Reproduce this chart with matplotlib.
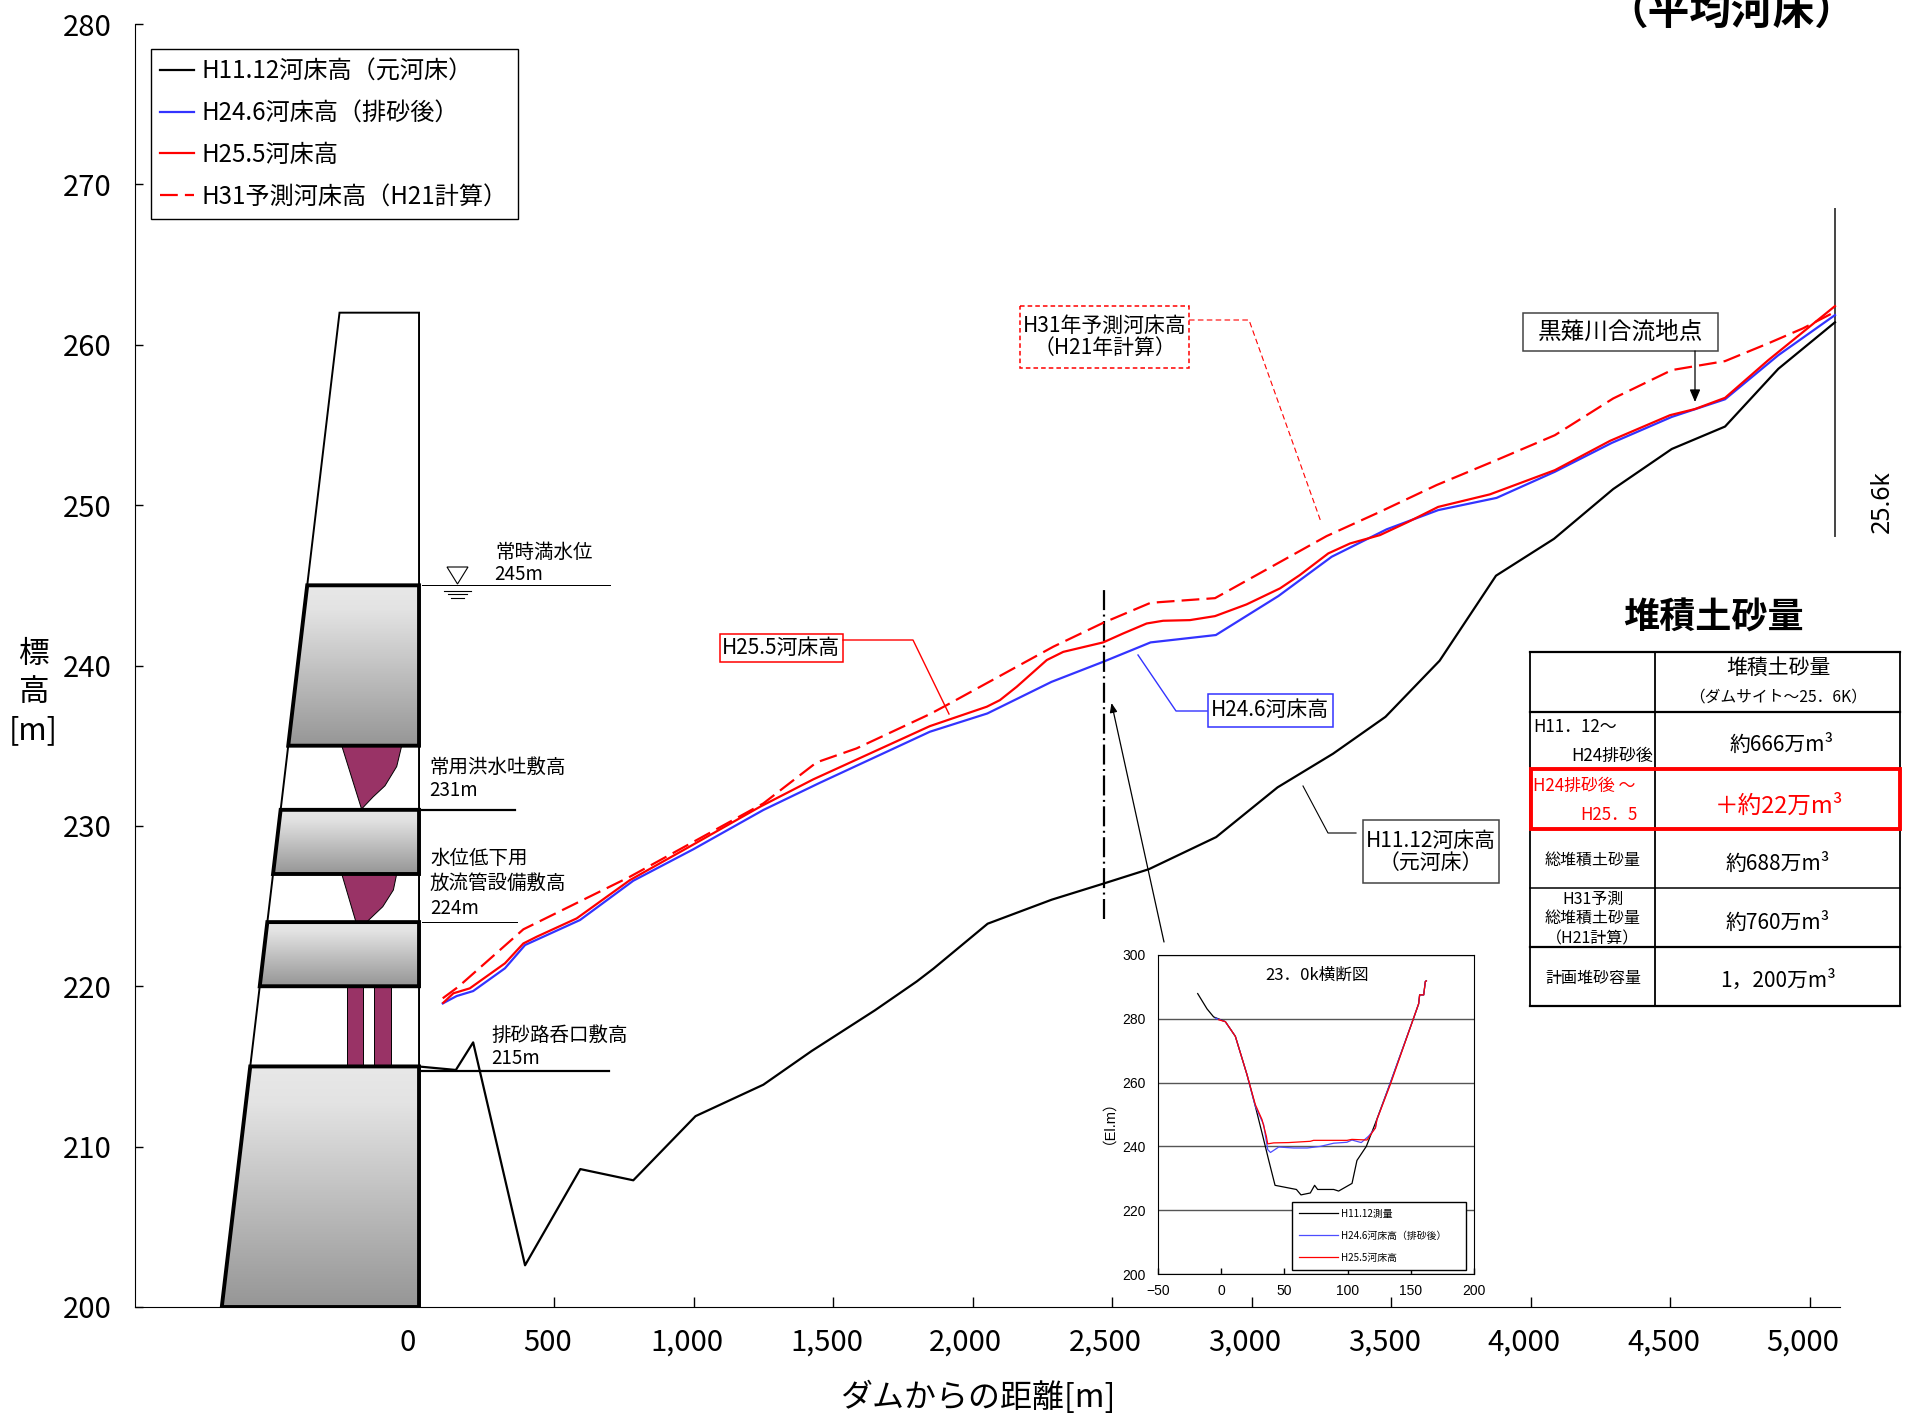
import numpy as np
import matplotlib
matplotlib.use("Agg")
import matplotlib.pyplot as plt
from matplotlib.colors import LinearSegmentedColormap
from matplotlib.patches import Polygon, Rectangle
from matplotlib.transforms import ScaledTranslation

JP = ["Noto Sans CJK JP", "DejaVu Sans"]
plt.rcParams["font.family"] = JP

W, H = 1906, 1413

# river bed profiles: distance from dam [m], elevation [m]
h11_x = [15, 24, 147, 209, 395, 593, 783, 1006, 1249, 1422, 1649, 1799, 1859, 2053, 2283, 2468,
         2631, 2872, 3092, 3291, 3479, 3673, 3875, 4083, 4295, 4505, 4696, 4887, 5090]
h11_y = [215.0, 214.98, 214.78, 216.5, 202.6, 208.6, 207.9, 211.9, 213.86, 215.96, 218.5, 220.3,
         221.1, 223.9, 225.4, 226.4, 227.3, 229.3, 232.4, 234.5, 236.8, 240.3, 245.6, 247.9,
         251.0, 253.5, 254.9, 258.5, 261.4]
h24_x = [100, 150, 209, 323, 395, 592, 783, 998, 1249, 1452, 1846, 2052, 2282, 2467, 2637, 2871,
         3095, 3286, 3483, 3668, 3877, 4086, 4290, 4505, 4696, 4887, 5090]
h24_y = [218.93, 219.39, 219.70, 221.12, 222.57, 224.13, 226.58, 228.54, 230.99, 232.69, 235.87,
         237.01, 238.98, 240.23, 241.44, 241.9, 244.33, 246.78, 248.49, 249.69, 250.45, 252.08,
         253.88, 255.5, 256.6, 259.35, 261.85]
h25_x = [102, 138, 197, 323, 389, 437, 580, 771, 974, 1237, 1428, 1846, 2050, 2097, 2157, 2265,
         2324, 2467, 2539, 2623, 2682, 2778, 2868, 2981, 3101, 3172, 3274, 3352, 3459, 3561, 3668,
         3853, 4086, 4284, 4499, 4588, 4696, 4851, 5090]
h25_y = [218.97, 219.56, 219.87, 221.43, 222.67, 223.09, 224.23, 226.62, 228.6, 231.19, 232.9,
         236.22, 237.43, 237.84, 238.67, 240.34, 240.85, 241.44, 242.0, 242.62, 242.79, 242.83,
         243.08, 243.81, 244.81, 245.64, 246.99, 247.61, 248.13, 248.96, 249.89, 250.67, 252.18,
         254.01, 255.61, 255.99, 256.69, 259.04, 262.41]
h31_x = [100, 156, 389, 771, 1249, 1440, 1583, 1846, 1900, 2288, 2467, 2637, 2868, 3268, 3459,
         3662, 3877, 4086, 4295, 4505, 4696, 4850, 4975, 5090]
h31_y = [219.25, 219.97, 223.55, 226.83, 231.4, 233.96, 234.83, 236.97, 237.47, 241.17, 242.66,
         243.91, 244.2, 248.07, 249.58, 251.25, 252.81, 254.36, 256.65, 258.42, 258.98, 260.08,
         261.02, 262.05]

# dam section (schematic), elevations [m]
dam_top = 262
dam_base = 200
dam_face_x = 15
dam_crest_x = -270
dam_toe_x = -692
block_levels = [(245, 235), (231, 227), (224, 220), (215, 200)]
spill1_x = [-262, -47, -65, -107, -150, -191]
spill1_y = [235, 235, 233.7, 232.5, 231.8, 231.05]
spill2_x = [-262, -65, -77, -115, -173, -211]
spill2_y = [227, 227, 226, 224.96, 224, 224]
conduit_x = [(-242, -185), (-146, -84)]

level_lines = [(245, 699, 1.0), (231, 360, 2.2), (224, 365, 1.0), (214.7, 695, 2.2)]

# 23.0k cross section
sec_h11_x = [-18.6, -11.2, -6, 3.3, 11.2, 20.4, 27, 32.3, 37.5, 42.6, 59.5, 63.1, 70.5, 73.9, 76.3,
             89, 92.9, 103.5, 107.4, 114.8, 122, 133.8, 152.3, 156.2, 157, 160.2, 161.5, 162.3]
sec_h11_y = [287.9, 283.1, 280.6, 279.1, 274.5, 262.5, 252.6, 244.2, 235.8, 227.8, 226.5, 224.8,
             225.4, 227.8, 226.5, 226.5, 226, 228.4, 235.6, 240, 247.3, 259.9, 280.3, 284.7, 287.5,
             287.5, 291.7, 291.9]
sec_h24_x = [-4.6, 3.3, 11.2, 20.4, 27, 33.6, 36.8, 39, 45.5, 57.4, 68, 78.4, 89, 99.5, 103.4, 110.8,
             116.6, 122, 123.2, 133.8, 152.3, 156.2, 157, 160.2, 161.5, 162.3]
sec_h24_y = [280.2, 279.1, 274.5, 262.5, 252.6, 246.8, 239, 238.1, 239.8, 239.5, 239.5, 240, 241,
             241.3, 242, 241.2, 243.2, 245.8, 248.4, 259.9, 280.3, 284.7, 287.5, 287.5, 291.7, 291.9]
sec_h25_x = [-2, 3.3, 11.2, 20.4, 27, 32.3, 35.7, 36.8, 41.5, 53.4, 70.5, 73.1, 99.5, 103.4, 115.3,
             122, 123.2, 133.8, 152.3, 156.2, 157, 160.2, 161.5, 162.3]
sec_h25_y = [279.7, 279.1, 274.5, 262.5, 253.1, 248.4, 243.2, 240.8, 241.1, 241.2, 241.6, 241.9,
             241.9, 242.2, 242, 245.8, 248.4, 259.4, 280.3, 284.7, 287.5, 287.5, 291.7, 291.9]

x_ticks = [0, 500, 1000, 1500, 2000, 2500, 3000, 3500, 4000, 4500, 5000]
x_tick_labels = ["0", "500", "1,000", "1,500", "2,000", "2,500", "3,000", "3,500", "4,000", "4,500", "5,000"]
y_ticks = [200, 210, 220, 230, 240, 250, 260, 270, 280]

table_rows = [["総堆積土砂量"], ["H31予測", "総堆積土砂量", "（H21計算）"], ["計画堆砂容量"]]
table_values = ["約666万m³", "＋約22万m³", "約688万m³", "約760万m³", "1，200万m³"]


def axes_rect(left, top, right, bottom):
    return [left / W, 1 - bottom / H, (right - left) / W, (bottom - top) / H]


fig = plt.figure(figsize=(W / 100, H / 100), dpi=100)
ax = fig.add_axes(axes_rect(135, 24, 1840, 1307))
ax.set_xlim(-1003, 5108)
ax.set_ylim(200, 280)
ax.spines[["top", "right"]].set_visible(False)
ax.set_xticks(x_ticks, x_tick_labels)
ax.set_yticks(y_ticks)
ax.tick_params(axis="x", direction="in", length=7, width=1, pad=15, labelsize=21)
ax.tick_params(axis="y", direction="in", length=6, width=1, pad=17, labelsize=21)
shift = ScaledTranslation(-7 / 100, 0, fig.dpi_scale_trans)
for tick_label in ax.get_xticklabels():
    tick_label.set_transform(tick_label.get_transform() + shift)

ax.set_xlabel("ダムからの距離[m]", fontsize=23)
ax.xaxis.set_label_coords(0.494, -0.0572)
ax.set_ylabel("標\n高\n[m]", rotation=0, fontsize=22, linespacing=1.3, va="center", ha="center")
ax.yaxis.set_label_coords(-0.0595, 0.479)


def upstream_x(level):
    return dam_toe_x + (dam_crest_x - dam_toe_x) * (level - dam_base) / (dam_top - dam_base)


# dam
grad = LinearSegmentedColormap.from_list("dam", [(0, "#e8e8e8"), (0.15, "#e3e3e3"), (1, "#969696")])
ax.plot([upstream_x(dam_base), dam_crest_x, dam_face_x, dam_face_x],
        [dam_base, dam_top, dam_top, dam_base], color="black", lw=1.4, zorder=2, solid_joinstyle="miter")
for top, bottom in block_levels:
    corners = [(upstream_x(top), top), (dam_face_x, top), (dam_face_x, bottom), (upstream_x(bottom), bottom)]
    poly = Polygon(corners, closed=True, facecolor="none", edgecolor="black", lw=2.8, zorder=4)
    ax.add_patch(poly)
    im = ax.imshow(np.linspace(0, 1, 128)[:, None], cmap=grad, aspect="auto", zorder=3,
                   extent=(upstream_x(bottom), dam_face_x, bottom, top), origin="upper")
    im.set_clip_path(poly)
ax.set_xlim(-1003, 5108)
ax.set_ylim(200, 280)

purple = "#993366"
for xs, ys in [(spill1_x, spill1_y), (spill2_x, spill2_y)]:
    ax.add_patch(Polygon(list(zip(xs, ys)), closed=True, facecolor=purple, edgecolor="black", lw=0.7, zorder=2))
for x0, x1 in conduit_x:
    ax.add_patch(Rectangle((x0, 215), x1 - x0, 5, facecolor=purple, edgecolor="black", lw=0.7, zorder=2))

for level, end, lw in level_lines:
    ax.plot([25, end], [level, level], color="black", lw=lw * 0.72, zorder=2)

# profiles
ax.plot(h11_x, h11_y, color="black", lw=1.6, label="H11.12河床高（元河床）", zorder=5)
ax.plot(h24_x, h24_y, color="#3333ff", lw=1.6, label="H24.6河床高（排砂後）", zorder=5)
ax.plot(h25_x, h25_y, color="#ff0000", lw=1.6, label="H25.5河床高", zorder=6)
ax.plot(h31_x, h31_y, color="#ff0000", lw=1.6, dashes=(8, 3.2), label="H31予測河床高（H21計算）", zorder=6)

ax.plot([2470, 2470], [224.2, 244.76], color="black", lw=1.6, dashes=(9, 2, 0.9, 2), zorder=5)
ax.plot([5090, 5090], [248.1, 268.45], color="#444444", lw=1.4, zorder=4)

leg = ax.legend(loc="upper left", bbox_to_anchor=(16 / 1705, 1 - 192 / 1283, 367 / 1705, 167 / 1283),
                mode="expand", prop={"size": 17.4}, frameon=True, fancybox=False, framealpha=1,
                edgecolor="black", borderaxespad=0, handlelength=1.4, handletextpad=0.3,
                labelspacing=0.655, borderpad=0.38)
leg.get_frame().set_linewidth(1)

# overlay in figure pixels for call-outs and the table
ov = fig.add_axes([0, 0, 1, 1], zorder=5)
ov.set_xlim(0, W)
ov.set_ylim(H, 0)
ov.axis("off")
ov.patch.set_alpha(0)


def label(x, y, s, size=14, ha="left", va="center", family=None, **kw):
    ov.text(x, y, s, fontsize=size, ha=ha, va=va, family=family or JP, **kw)


def boxed(x0, y0, x1, y1, edge, **kw):
    ov.add_patch(Rectangle((x0, y0), x1 - x0, y1 - y0, facecolor="white", edgecolor=edge, lw=kw.pop("lw", 1.1), **kw))


# dam level notes
label(495, 552, "常時満水位", 14)
label(494, 575, "245m", 13.5)
label(429, 767, "常用洪水吐敷高", 14)
label(429, 790, "231m", 13.5)
label(430, 858, "水位低下用", 14)
label(430, 883, "放流管設備敷高", 14)
label(430, 908, "224m", 13.5)
label(491, 1035, "排砂路呑口敷高", 14)
label(491, 1058, "215m", 13.5)
ov.add_patch(Polygon([(447, 567), (468, 567), (457.5, 584)], closed=True, facecolor="white", edgecolor="black", lw=0.8))
for y, x0, x1 in [(590.5, 444, 471), (594, 448, 467), (597.5, 451, 464)]:
    ov.plot([x0, x1], [y, y], color="black", lw=0.8)

# call-outs
boxed(1020, 306, 1189, 368, "#ff0000", ls=(0, (3, 2)))
label(1105, 337, "H31年予測河床高\n（H21年計算）", 15, ha="center", linespacing=1.0)
ov.plot([1189, 1249, 1321], [320, 320, 522], color="#ff0000", lw=0.8, ls=(0, (5, 3)))

boxed(720, 634, 843, 662, "#ff0000")
label(781, 648, "H25.5河床高", 15, ha="center")
ov.plot([843, 913, 949], [640, 640, 714], color="#ff0000", lw=1)

boxed(1208, 694, 1333, 727, "#3333ff")
label(1270, 710, "H24.6河床高", 15, ha="center")
ov.plot([1138, 1176, 1207], [655, 711, 711], color="#3333ff", lw=1)

boxed(1363, 820, 1499, 883, "#444444")
label(1431, 852, "H11.12河床高\n（元河床）", 15, ha="center", linespacing=1.0)
ov.plot([1303, 1328, 1356], [786, 833, 833], color="black", lw=0.8)

boxed(1523, 313, 1718, 351, "#444444")
label(1620, 332, "黒薙川合流地点", 17, ha="center")
ov.annotate("", xy=(1695, 402), xytext=(1695, 351),
            arrowprops=dict(arrowstyle="-|>,head_width=0.32,head_length=0.75", color="black", lw=0.9, shrinkA=0, shrinkB=0))
ov.annotate("", xy=(1111.5, 703), xytext=(1164, 942),
            arrowprops=dict(arrowstyle="-|>,head_width=0.22,head_length=0.55", color="black", lw=0.9, shrinkA=0, shrinkB=0))

label(1882, 502, "25.6k", 18, ha="center", rotation=90, family=["Noto Sans"])
label(1731, 25, "（平均河床）", 30, ha="center", va="baseline", weight="bold")

# sediment table
label(1714, 618, "堆積土砂量", 26, ha="center", weight="bold")
table_x = [1530, 1655, 1900]
table_y = [652, 712, 769, 829, 888, 947, 1006]
for i, y in enumerate(table_y):
    thick = 1.6 if i in (0, 1, 5, 6) else 1.1
    ov.plot([table_x[0], table_x[2]], [y, y], color="black", lw=thick)
for x in table_x:
    ov.plot([x, x], [table_y[0], table_y[-1]], color="black", lw=1.3)

label(1778, 668, "堆積土砂量", 15, ha="center")
label(1778, 697, "（ダムサイト～25．6K）", 11.3, ha="center")
label(1533, 727, "H11．12～", 12.2)
label(1653, 756, "H24排砂後", 12.2, ha="right")
label(1533, 786, "H24排砂後 ～", 12.2, color="#ff0000")
label(1638, 815, "H25．5", 12.2, ha="right", color="#ff0000")
label(1593, 860, table_rows[0][0], 11.5, ha="center")
for y, s in zip([899, 918, 939], table_rows[1]):
    label(1593, y, s, 11.5, ha="center")
label(1593, 978, table_rows[2][0], 11.5, ha="center")
value_x = [1782, 1779, 1778, 1778, 1778]
value_y = [745, 806, 864, 923, 981]
for i, (x, y, s) in enumerate(zip(value_x, value_y, table_values)):
    red = i == 1
    label(x, y, s, 17 if red else 15, ha="center", color="#ff0000" if red else "black")
ov.add_patch(Rectangle((1531, 769), 369, 60, facecolor="none", edgecolor="#ff0000", lw=2.8, zorder=5))

# inset cross section
sec = fig.add_axes(axes_rect(1158, 955, 1474, 1274), zorder=6)
sec.set_xlim(-50, 200)
sec.set_ylim(200, 300)
sec.set_xticks([-50, 0, 50, 100, 150, 200])
sec.set_yticks([200, 220, 240, 260, 280, 300])
sec.tick_params(axis="x", direction="in", length=4, width=1, pad=7, labelsize=10, labelfontfamily=["Liberation Sans"])
sec.tick_params(axis="y", length=0, pad=9, labelsize=10, labelfontfamily=["Liberation Sans"])
sec.grid(axis="y", color="#555555", lw=1)
sec.set_axisbelow(True)
sec.set_ylabel("（El.m）", fontsize=10.5, family=["Liberation Sans", "Noto Sans CJK JP"], labelpad=10)
sec.text(0.503, 0.937, "23．0k横断図", fontsize=12, ha="center", va="center", transform=sec.transAxes)
sec.plot(sec_h11_x, sec_h11_y, color="black", lw=0.9, label="H11.12測量")
sec.plot(sec_h24_x, sec_h24_y, color="#4d4dff", lw=0.9, label="H24.6河床高（排砂後）")
sec.plot(sec_h25_x, sec_h25_y, color="#ff0000", lw=0.9, label="H25.5河床高")
sec_leg = sec.legend(loc="lower left", bbox_to_anchor=(0.424, 4 / 319, 0.551, 0.2), mode="expand",
                     prop={"size": 7.1}, frameon=True, fancybox=False, framealpha=1, edgecolor="black",
                     borderaxespad=0, handlelength=3.95, handletextpad=0.3, labelspacing=1.2, borderpad=0.75)
sec_leg.get_frame().set_linewidth(1)

fig.savefig("out.png", dpi=100)
